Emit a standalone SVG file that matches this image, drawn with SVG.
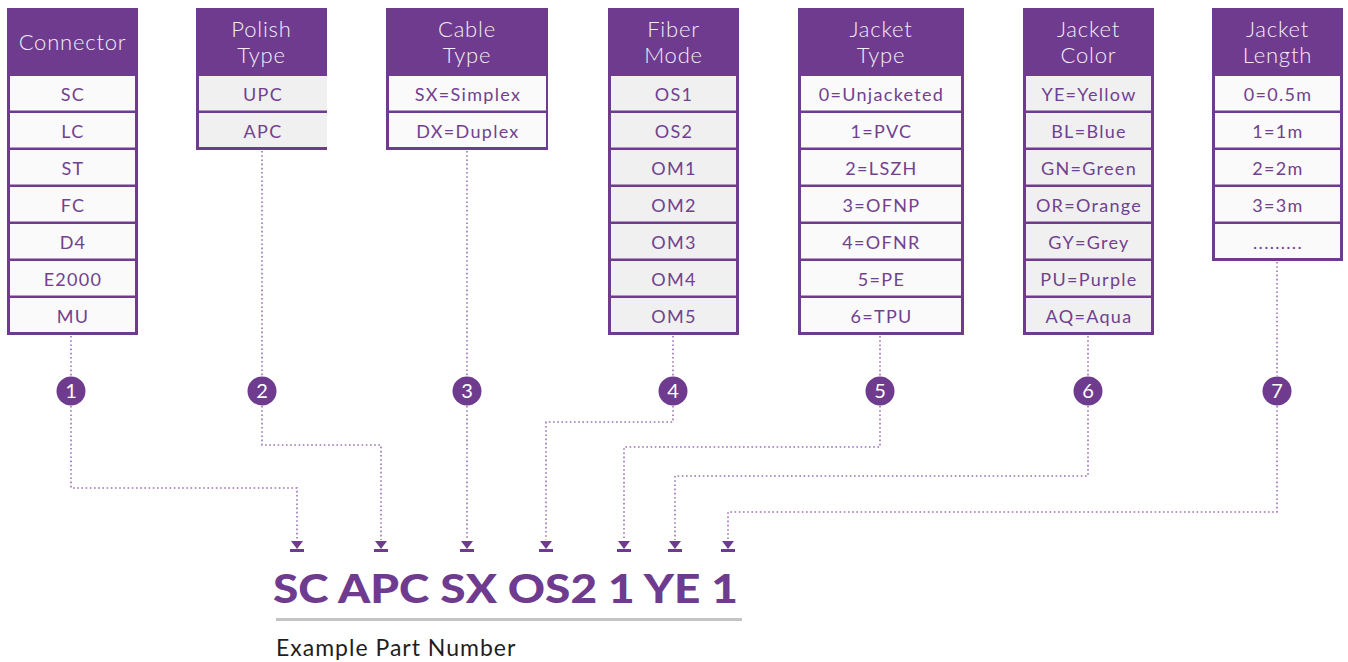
<svg xmlns="http://www.w3.org/2000/svg" width="1348" height="662" viewBox="0 0 1348 662">
<defs>
<style>
.box{fill:#6e3b8f}
.ca{fill:#fafafa}
.cb{fill:#f0f0f0}
.hd{font-family:Lato,"Noto Sans",sans-serif;font-size:22px;font-weight:300;letter-spacing:0.8px;fill:#f4eef7;text-anchor:middle}
.ct{font-family:Lato,"Noto Sans",sans-serif;font-size:18px;font-weight:400;letter-spacing:1.3px;fill:#71418f;text-anchor:middle}
.num{font-family:Lato,"Noto Sans",sans-serif;font-size:20px;fill:#ffffff;text-anchor:middle}
.dot{fill:none;stroke:#9a70b6;stroke-width:1.6;stroke-dasharray:1.6 2.6}
.circ{fill:#6e3b8f}
.ah{fill:#6e3b8f}
</style>
<g id="arrowhead"><polygon points="-6,-8 6,-8 0,0"/><rect x="-7" y="0" width="14" height="3"/></g>
</defs>
<rect width="1348" height="662" fill="#ffffff"/>

<g id="node-connector">
<rect class="box" x="7" y="8" width="131" height="327"/>
<text class="hd" x="72.5" y="50">Connector</text>
<rect class="ca" x="10" y="76" width="125" height="34.5"/><text class="ct" x="73" y="101">SC</text>
<rect class="ca" x="10" y="113" width="125" height="34.5"/><text class="ct" x="73" y="138">LC</text>
<rect class="ca" x="10" y="150" width="125" height="34.5"/><text class="ct" x="73" y="175">ST</text>
<rect class="ca" x="10" y="187" width="125" height="34.5"/><text class="ct" x="73" y="212">FC</text>
<rect class="ca" x="10" y="224" width="125" height="34.5"/><text class="ct" x="73" y="249">D4</text>
<rect class="ca" x="10" y="261" width="125" height="34.5"/><text class="ct" x="73" y="286">E2000</text>
<rect class="ca" x="10" y="298" width="125" height="34"/><text class="ct" x="73" y="323">MU</text>
</g>

<g id="node-polish">
<rect class="box" x="196" y="8" width="131" height="142"/>
<text class="hd" x="261.5" y="37">Polish</text>
<text class="hd" x="261.5" y="63">Type</text>
<rect class="cb" x="199" y="76" width="128" height="34.5"/><text class="ct" x="263" y="101">UPC</text>
<rect class="cb" x="199" y="113" width="128" height="34"/><text class="ct" x="263" y="138">APC</text>
</g>

<g id="node-cable">
<rect class="box" x="386" y="8" width="162" height="142"/>
<text class="hd" x="467" y="37">Cable</text>
<text class="hd" x="467" y="63">Type</text>
<rect class="ca" x="389" y="76" width="157" height="34.5"/><text class="ct" x="468" y="101">SX=Simplex</text>
<rect class="ca" x="389" y="113" width="157" height="34"/><text class="ct" x="468" y="138">DX=Duplex</text>
</g>

<g id="node-fiber">
<rect class="box" x="608" y="8" width="131" height="327"/>
<text class="hd" x="673.5" y="37">Fiber</text>
<text class="hd" x="673.5" y="63">Mode</text>
<rect class="cb" x="611" y="76" width="125" height="34.5"/><text class="ct" x="674" y="101">OS1</text>
<rect class="cb" x="611" y="113" width="125" height="34.5"/><text class="ct" x="674" y="138">OS2</text>
<rect class="cb" x="611" y="150" width="125" height="34.5"/><text class="ct" x="674" y="175">OM1</text>
<rect class="cb" x="611" y="187" width="125" height="34.5"/><text class="ct" x="674" y="212">OM2</text>
<rect class="cb" x="611" y="224" width="125" height="34.5"/><text class="ct" x="674" y="249">OM3</text>
<rect class="cb" x="611" y="261" width="125" height="34.5"/><text class="ct" x="674" y="286">OM4</text>
<rect class="cb" x="611" y="298" width="125" height="34"/><text class="ct" x="674" y="323">OM5</text>
</g>

<g id="node-jacket-type">
<rect class="box" x="798" y="8" width="166" height="327"/>
<text class="hd" x="881" y="37">Jacket</text>
<text class="hd" x="881" y="63">Type</text>
<rect class="ca" x="801" y="76" width="160" height="34.5"/><text class="ct" x="881.5" y="101">0=Unjacketed</text>
<rect class="ca" x="801" y="113" width="160" height="34.5"/><text class="ct" x="881.5" y="138">1=PVC</text>
<rect class="ca" x="801" y="150" width="160" height="34.5"/><text class="ct" x="881.5" y="175">2=LSZH</text>
<rect class="ca" x="801" y="187" width="160" height="34.5"/><text class="ct" x="881.5" y="212">3=OFNP</text>
<rect class="ca" x="801" y="224" width="160" height="34.5"/><text class="ct" x="881.5" y="249">4=OFNR</text>
<rect class="ca" x="801" y="261" width="160" height="34.5"/><text class="ct" x="881.5" y="286">5=PE</text>
<rect class="ca" x="801" y="298" width="160" height="34"/><text class="ct" x="881.5" y="323">6=TPU</text>
</g>

<g id="node-jacket-color">
<rect class="box" x="1023" y="8" width="131" height="327"/>
<text class="hd" x="1088.5" y="37">Jacket</text>
<text class="hd" x="1088.5" y="63">Color</text>
<rect class="cb" x="1026" y="76" width="125" height="34.5"/><text class="ct" x="1089" y="101">YE=Yellow</text>
<rect class="cb" x="1026" y="113" width="125" height="34.5"/><text class="ct" x="1089" y="138">BL=Blue</text>
<rect class="cb" x="1026" y="150" width="125" height="34.5"/><text class="ct" x="1089" y="175">GN=Green</text>
<rect class="cb" x="1026" y="187" width="125" height="34.5"/><text class="ct" x="1089" y="212">OR=Orange</text>
<rect class="cb" x="1026" y="224" width="125" height="34.5"/><text class="ct" x="1089" y="249">GY=Grey</text>
<rect class="cb" x="1026" y="261" width="125" height="34.5"/><text class="ct" x="1089" y="286">PU=Purple</text>
<rect class="cb" x="1026" y="298" width="125" height="34"/><text class="ct" x="1089" y="323">AQ=Aqua</text>
</g>

<g id="node-jacket-length">
<rect class="box" x="1212" y="8" width="131" height="253"/>
<text class="hd" x="1277.5" y="37">Jacket</text>
<text class="hd" x="1277.5" y="63">Length</text>
<rect class="ca" x="1215" y="76" width="125" height="34.5"/><text class="ct" x="1278" y="101">0=0.5m</text>
<rect class="ca" x="1215" y="113" width="125" height="34.5"/><text class="ct" x="1278" y="138">1=1m</text>
<rect class="ca" x="1215" y="150" width="125" height="34.5"/><text class="ct" x="1278" y="175">2=2m</text>
<rect class="ca" x="1215" y="187" width="125" height="34.5"/><text class="ct" x="1278" y="212">3=3m</text>
<rect class="ca" x="1215" y="224" width="125" height="34"/><text class="ct" x="1278" y="249">.........</text>
</g>

<g id="connectors">
<path class="dot" d="M71,336 V376"/>
<path class="dot" d="M71,406 V488 H297 V540"/>
<path class="dot" d="M262,151 V376"/>
<path class="dot" d="M262,406 V445 H381 V540"/>
<path class="dot" d="M467,151 V376"/>
<path class="dot" d="M467,406 V540"/>
<path class="dot" d="M673,336 V376"/>
<path class="dot" d="M673,406 V422 H546 V540"/>
<path class="dot" d="M880,336 V376"/>
<path class="dot" d="M880,406 V447 H624 V540"/>
<path class="dot" d="M1088,336 V376"/>
<path class="dot" d="M1088,406 V476 H675 V540"/>
<path class="dot" d="M1277,262 V376"/>
<path class="dot" d="M1277,406 V512 H728 V540"/>
<g class="ah">
<use href="#arrowhead" x="297" y="549"/>
<use href="#arrowhead" x="381" y="549"/>
<use href="#arrowhead" x="467" y="549"/>
<use href="#arrowhead" x="546" y="549"/>
<use href="#arrowhead" x="624" y="549"/>
<use href="#arrowhead" x="675" y="549"/>
<use href="#arrowhead" x="728" y="549"/>
</g>
</g>

<g id="markers">
<g id="m1"><circle class="circ" cx="71" cy="391" r="14.5"/><text class="num" x="71" y="398">1</text></g>
<g id="m2"><circle class="circ" cx="262" cy="391" r="14.5"/><text class="num" x="262" y="398">2</text></g>
<g id="m3"><circle class="circ" cx="467" cy="391" r="14.5"/><text class="num" x="467" y="398">3</text></g>
<g id="m4"><circle class="circ" cx="673" cy="391" r="14.5"/><text class="num" x="673" y="398">4</text></g>
<g id="m5"><circle class="circ" cx="880" cy="391" r="14.5"/><text class="num" x="880" y="398">5</text></g>
<g id="m6"><circle class="circ" cx="1088" cy="391" r="14.5"/><text class="num" x="1088" y="398">6</text></g>
<g id="m7"><circle class="circ" cx="1277" cy="391" r="14.5"/><text class="num" x="1277" y="398">7</text></g>
</g>

<g id="part-number">
<text x="273" y="603" font-family="Lato,'Noto Sans',sans-serif" font-size="40" font-weight="900" fill="#6e3b8f" textLength="465" lengthAdjust="spacingAndGlyphs">SC APC SX OS2 1 YE 1</text>
<rect x="276" y="618" width="466" height="3" fill="#c4c4c4"/>
<text x="276" y="656" font-family="Lato,'Noto Sans',sans-serif" font-size="23" letter-spacing="1" fill="#1e1e1e">Example Part Number</text>
</g>
</svg>
